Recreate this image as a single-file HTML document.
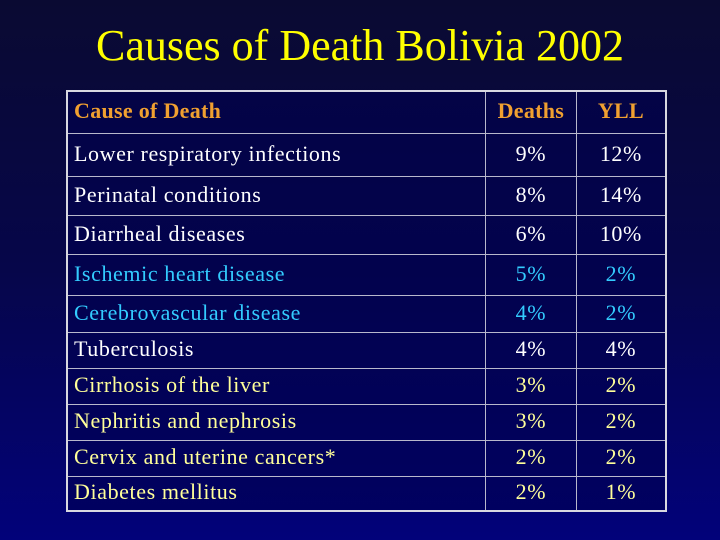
<!DOCTYPE html>
<html><head><style>
html,body{margin:0;padding:0}
body{width:720px;height:540px;overflow:hidden;position:relative;background:linear-gradient(to bottom,#0a0a32 0%,#06064a 50%,#02027a 100%);font-family:"Liberation Serif",serif}
h1{position:absolute;top:21px;left:0;width:720px;margin:0;text-align:center;color:#ffff00;font-weight:normal;font-size:44px;line-height:50px}
table{position:absolute;left:66px;top:90px;width:601px;height:420px;border-collapse:collapse;border:2px solid #d8d8e0;background:rgba(0,0,80,0.55);font-size:22px;letter-spacing:0.6px}
td{border:1px solid #b8b8cc;padding:0 6px;white-space:nowrap;padding-bottom:2px}
td.n{text-align:center}
.h td{color:#f0a030;font-weight:bold;letter-spacing:0.3px}
.w td{color:#ffffff}
.c td{color:#33ccff}
.y td{color:#ffff99}
</style></head><body>
<h1>Causes of Death Bolivia 2002</h1>
<table>
<colgroup><col style="width:420px"><col style="width:91px"><col style="width:90px"></colgroup>
<tr class="h" style="height:42px"><td>Cause of Death</td><td class="n">Deaths</td><td class="n">YLL</td></tr>
<tr class="w" style="height:43px"><td>Lower respiratory infections</td><td class="n">9%</td><td class="n">12%</td></tr>
<tr class="w" style="height:39px"><td>Perinatal conditions</td><td class="n">8%</td><td class="n">14%</td></tr>
<tr class="w" style="height:39px"><td>Diarrheal diseases</td><td class="n">6%</td><td class="n">10%</td></tr>
<tr class="c" style="height:41px"><td>Ischemic heart disease</td><td class="n">5%</td><td class="n">2%</td></tr>
<tr class="c" style="height:37px"><td>Cerebrovascular disease</td><td class="n">4%</td><td class="n">2%</td></tr>
<tr class="w" style="height:36px"><td>Tuberculosis</td><td class="n">4%</td><td class="n">4%</td></tr>
<tr class="y" style="height:36px"><td>Cirrhosis of the liver</td><td class="n">3%</td><td class="n">2%</td></tr>
<tr class="y" style="height:36px"><td>Nephritis and nephrosis</td><td class="n">3%</td><td class="n">2%</td></tr>
<tr class="y" style="height:36px"><td>Cervix and uterine cancers*</td><td class="n">2%</td><td class="n">2%</td></tr>
<tr class="y" style="height:35px"><td>Diabetes mellitus</td><td class="n">2%</td><td class="n">1%</td></tr>
</table>
</body></html>
